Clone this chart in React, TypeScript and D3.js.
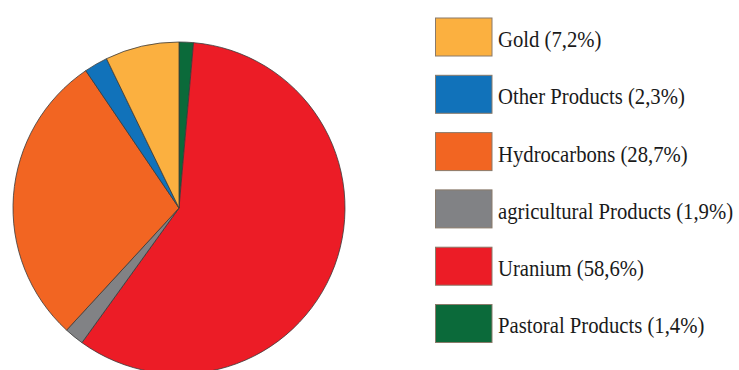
import React from "react";
import * as d3 from "d3";

const categories = ["Pastoral Products", "Uranium", "agricultural Products", "Hydrocarbons", "Other Products", "Gold"];
const values = [1.4, 58.6, 1.9, 28.7, 2.3, 7.2];
const labels = ["1,4%", "58,6%", "1,9%", "28,7%", "2,3%", "7,2%"];
const colors = ["#0b6a3a", "#ec1c26", "#818285", "#f26522", "#1172ba", "#fbb040"];
const legendOrder = [5, 4, 3, 2, 1, 0];

export default function App() {
  const W = 739, H = 370;
  const cx = 179, cy = 208, r = 166;
  const pie = d3.pie<number>().sort(null).value((d) => d)(values);
  const arc = d3.arc<d3.PieArcDatum<number>>().innerRadius(0).outerRadius(r);
  const y = d3.scaleBand<number>().domain(legendOrder).range([9, 9 + 57.3 * 6]).paddingInner(0);
  return (
    <svg width={W} height={H} style={{ position: "absolute", left: 0, top: 0, background: "#fff" }}>
      <g transform={`translate(${cx},${cy})`}>
        {pie.map((p, i) => (
          <path key={i} d={arc(p) || ""} fill={colors[i]} stroke="#3a3a3a" strokeWidth={0.8} strokeLinejoin="round" />
        ))}
      </g>
      {legendOrder.map((i) => {
        const y0 = y(i)! + 9;
        return (
          <g key={i}>
            <rect x={435.5} y={y0} width={56.5} height={38} fill={colors[i]} stroke="#8a7a6a" strokeWidth={1} />
            <text
              x={498}
              y={y0 + 29}
              style={{ fontFamily: "Liberation Serif, Times New Roman, Times, serif", fontSize: 23 }}
              fill="#1a1a1a"
              transform={`translate(498,0) scale(0.9,1) translate(-498,0)`}
            >
              {`${categories[i]} (${labels[i]})`}
            </text>
          </g>
        );
      })}
    </svg>
  );
}
